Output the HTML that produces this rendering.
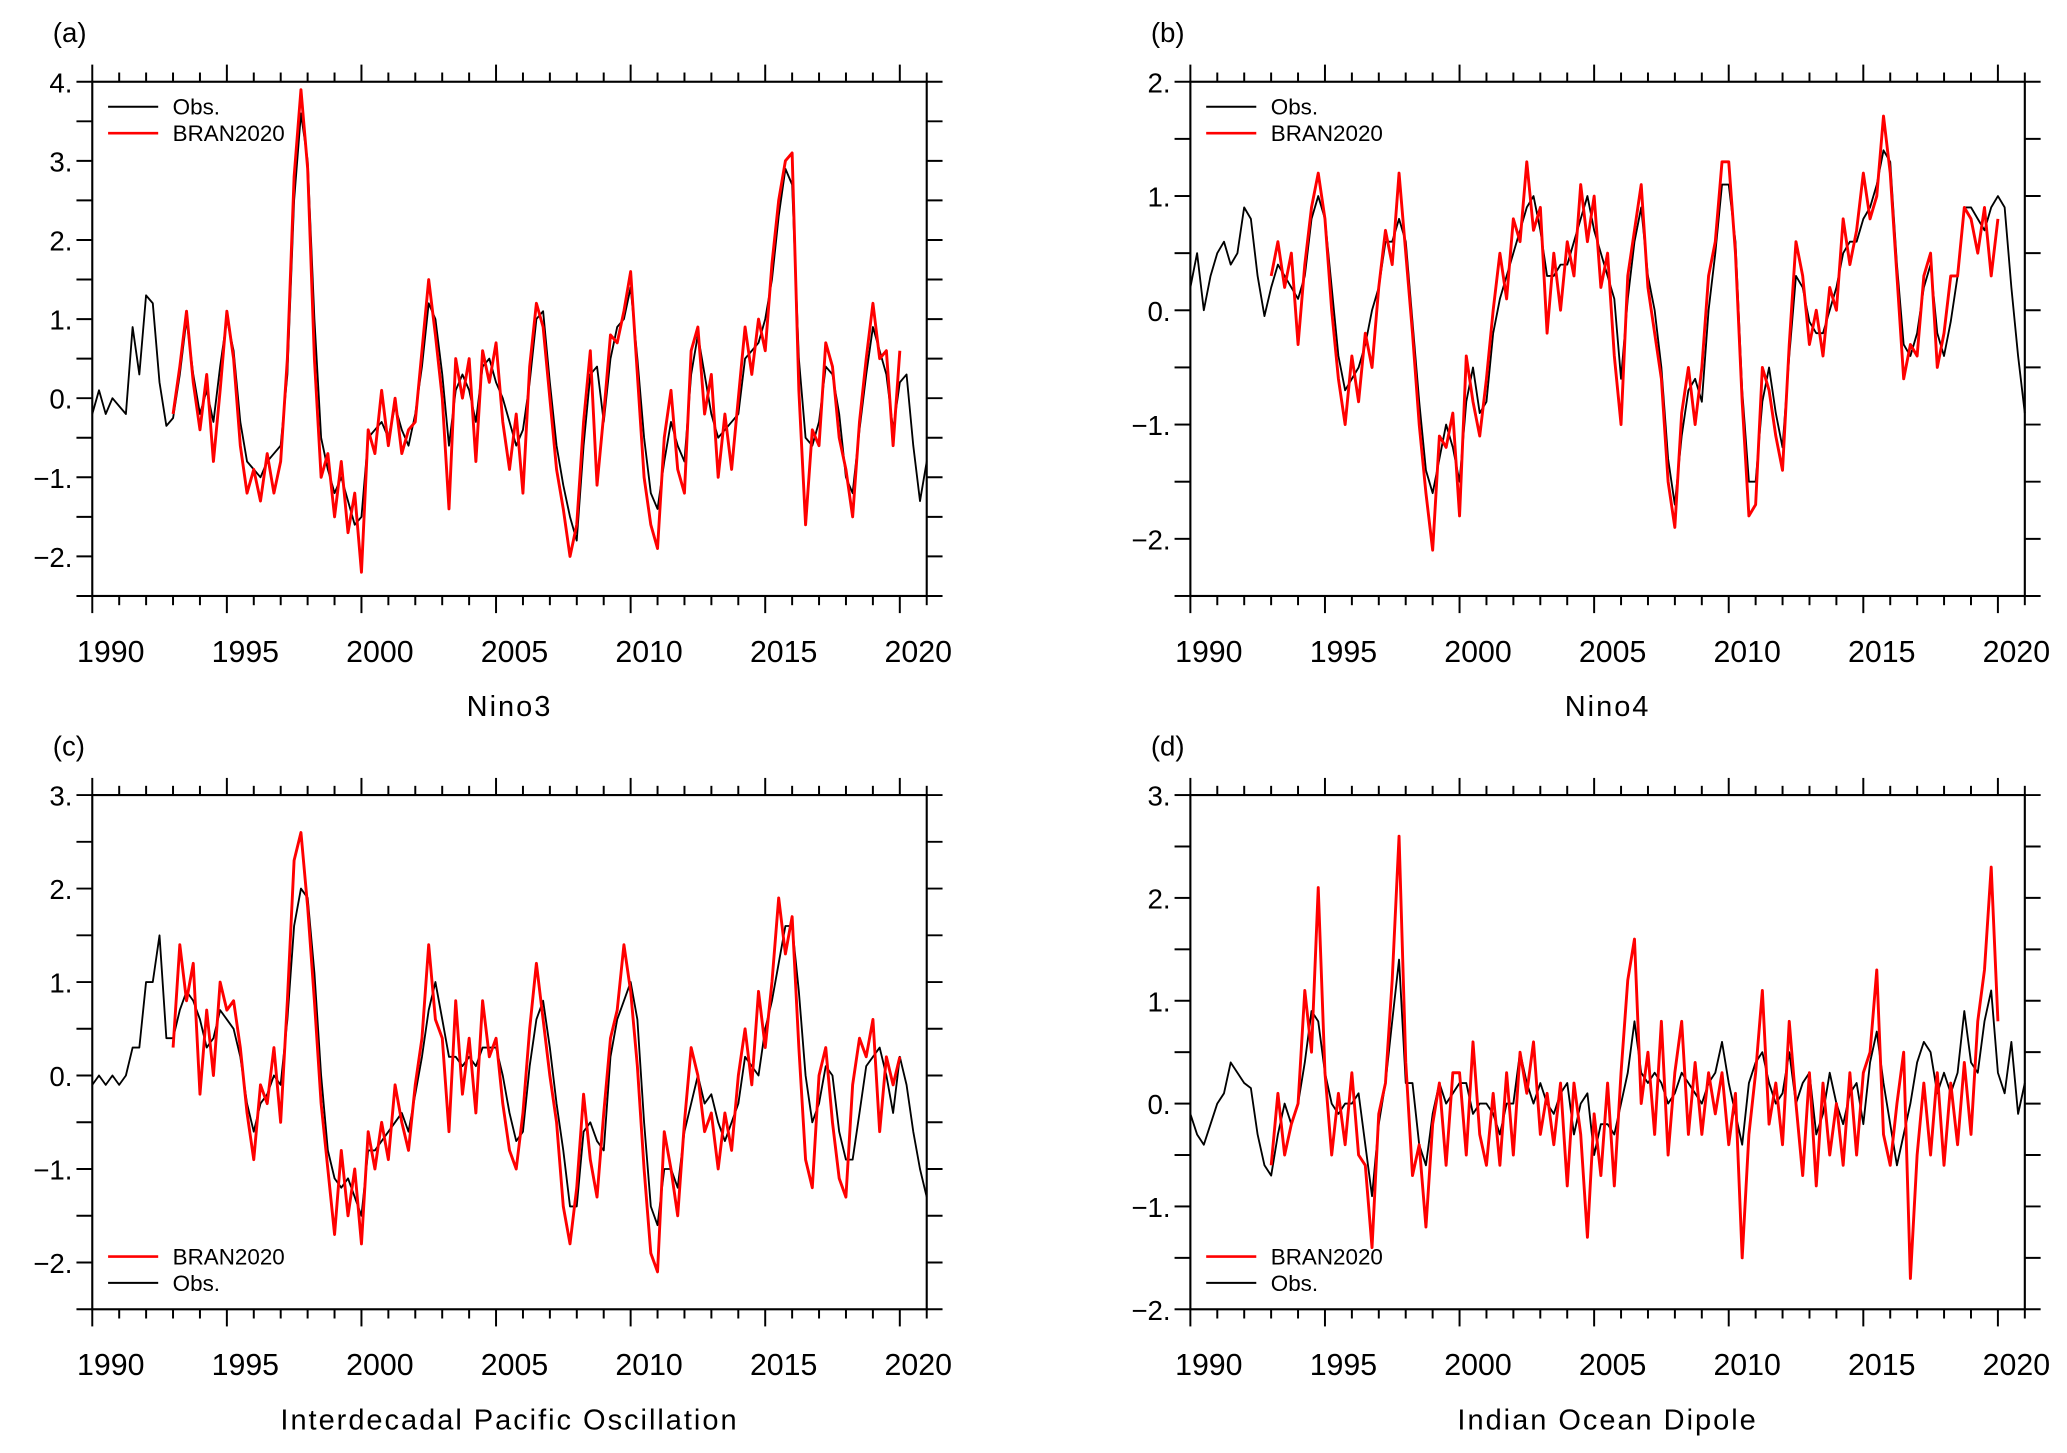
<!DOCTYPE html>
<html><head><meta charset="utf-8"><style>
html,body{margin:0;padding:0;background:#fff;}
svg{display:block;font-family:"Liberation Sans","DejaVu Sans",sans-serif;}
</style></head><body>
<svg id="fig" width="2067" height="1453" viewBox="0 0 1568 1102" preserveAspectRatio="none" xmlns="http://www.w3.org/2000/svg"></svg>
<script>
// ---- data (quarterly values) ----
const obsStart = 1990.0, redStart = 1993.0, step = 0.25;
const xTickYears = [1990, 1995, 2000, 2005, 2010, 2015, 2020];
const nino3Obs = [-0.2,0.1,-0.2,0.0, -0.1,-0.2,0.9,0.3, 1.3,1.2,0.2,-0.35, -0.25,0.3,1.0,0.3, -0.2,0.1,-0.3,0.4, 1.0,0.6,-0.3,-0.8, -0.9,-1.0,-0.8,-0.7, -0.6,0.3,2.5,3.6, 3.0,1.0,-0.5,-0.9, -1.2,-1.0,-1.3,-1.6, -1.5,-0.5,-0.4,-0.3, -0.5,-0.1,-0.4,-0.6, -0.2,0.4,1.2,1.0, 0.3,-0.6,0.1,0.3, 0.1,-0.3,0.4,0.5, 0.2,0.0,-0.3,-0.6, -0.4,0.2,1.0,1.1, 0.2,-0.6,-1.1,-1.5, -1.8,-0.6,0.3,0.4, -0.3,0.5,0.9,1.0, 1.4,0.5,-0.5,-1.2, -1.4,-0.8,-0.3,-0.6, -0.8,0.3,0.8,0.3, -0.2,-0.5,-0.4,-0.3, -0.2,0.5,0.6,0.7, 1.0,1.5,2.3,2.9, 2.7,0.5,-0.5,-0.6, -0.3,0.4,0.3,-0.2, -1.0,-1.2,-0.4,0.3, 0.9,0.6,0.3,-0.4, 0.2,0.3,-0.6,-1.3, -0.8];
const nino3Bran = [-0.2,0.4,1.1,0.2, -0.4,0.3,-0.8,0.1, 1.1,0.5,-0.6,-1.2, -0.9,-1.3,-0.7,-1.2, -0.8,0.5,2.8,3.9, 2.9,0.5,-1.0,-0.7, -1.5,-0.8,-1.7,-1.2, -2.2,-0.4,-0.7,0.1, -0.6,0.0,-0.7,-0.4, -0.3,0.6,1.5,0.8, 0.0,-1.4,0.5,0.0, 0.5,-0.8,0.6,0.2, 0.7,-0.3,-0.9,-0.2, -1.2,0.4,1.2,0.9, 0.0,-0.9,-1.4,-2.0, -1.6,-0.3,0.6,-1.1, -0.2,0.8,0.7,1.1, 1.6,0.3,-1.0,-1.6, -1.9,-0.5,0.1,-0.9, -1.2,0.6,0.9,-0.2, 0.3,-1.0,-0.2,-0.9, 0.0,0.9,0.3,1.0, 0.6,1.7,2.5,3.0, 3.1,0.1,-1.6,-0.4, -0.6,0.7,0.4,-0.5, -0.9,-1.5,-0.3,0.5, 1.2,0.5,0.6,-0.6, 0.6];
const nino4Obs = [0.2,0.5,0.0,0.3, 0.5,0.6,0.4,0.5, 0.9,0.8,0.3,-0.05, 0.2,0.4,0.3,0.2, 0.1,0.3,0.8,1.0, 0.8,0.2,-0.4,-0.7, -0.6,-0.5,-0.3,0.0, 0.2,0.6,0.6,0.8, 0.6,-0.1,-0.8,-1.4, -1.6,-1.3,-1.0,-1.2, -1.5,-0.8,-0.5,-0.9, -0.8,-0.2,0.1,0.3, 0.5,0.7,0.9,1.0, 0.7,0.3,0.3,0.4, 0.4,0.6,0.8,1.0, 0.7,0.5,0.3,0.1, -0.6,0.1,0.6,0.9, 0.3,0.0,-0.5,-1.3, -1.7,-1.1,-0.7,-0.6, -0.8,0.0,0.5,1.1, 1.1,0.6,-0.7,-1.5, -1.5,-0.8,-0.5,-0.9, -1.2,-0.4,0.3,0.2, -0.1,-0.2,-0.2,0.0, 0.2,0.5,0.6,0.6, 0.8,0.9,1.1,1.4, 1.3,0.4,-0.3,-0.4, -0.2,0.2,0.4,-0.2, -0.4,-0.1,0.3,0.9, 0.9,0.8,0.7,0.9, 1.0,0.9,0.2,-0.4, -0.9];
const nino4Bran = [0.3,0.6,0.2,0.5, -0.3,0.4,0.9,1.2, 0.8,0.0,-0.6,-1.0, -0.4,-0.8,-0.2,-0.5, 0.2,0.7,0.4,1.2, 0.5,-0.2,-1.0,-1.6, -2.1,-1.1,-1.2,-0.9, -1.8,-0.4,-0.8,-1.1, -0.6,0.0,0.5,0.1, 0.8,0.6,1.3,0.7, 0.9,-0.2,0.5,0.0, 0.6,0.3,1.1,0.6, 1.0,0.2,0.5,-0.4, -1.0,0.3,0.7,1.1, 0.2,-0.2,-0.6,-1.5, -1.9,-0.9,-0.5,-1.0, -0.5,0.3,0.6,1.3, 1.3,0.5,-0.8,-1.8, -1.7,-0.5,-0.7,-1.1, -1.4,-0.3,0.6,0.3, -0.3,0.0,-0.4,0.2, 0.0,0.8,0.4,0.7, 1.2,0.8,1.0,1.7, 1.2,0.3,-0.6,-0.3, -0.4,0.3,0.5,-0.5, -0.2,0.3,0.3,0.9, 0.8,0.5,0.9,0.3, 0.8];
const ipoObs = [-0.1,0.0,-0.1,0.0, -0.1,0.0,0.3,0.3, 1.0,1.0,1.5,0.4, 0.4,0.7,0.9,0.8, 0.6,0.3,0.4,0.7, 0.6,0.5,0.2,-0.3, -0.6,-0.3,-0.2,0.0, -0.1,0.6,1.6,2.0, 1.9,1.1,0.0,-0.8, -1.1,-1.2,-1.1,-1.3, -1.5,-0.8,-0.8,-0.7, -0.6,-0.5,-0.4,-0.6, -0.2,0.2,0.7,1.0, 0.6,0.2,0.2,0.1, 0.2,0.1,0.3,0.3, 0.3,0.0,-0.4,-0.7, -0.6,0.1,0.6,0.8, 0.3,-0.3,-0.8,-1.4, -1.4,-0.6,-0.5,-0.7, -0.8,0.2,0.6,0.8, 1.0,0.6,-0.5,-1.4, -1.6,-1.0,-1.0,-1.2, -0.6,-0.3,0.0,-0.3, -0.2,-0.5,-0.7,-0.5, -0.3,0.2,0.1,0.0, 0.5,0.8,1.2,1.6, 1.6,0.9,0.0,-0.5, -0.3,0.1,0.0,-0.6, -0.9,-0.9,-0.4,0.1, 0.2,0.3,0.0,-0.4, 0.2,-0.1,-0.6,-1.0, -1.3];
const ipoBran = [0.3,1.4,0.8,1.2, -0.2,0.7,0.0,1.0, 0.7,0.8,0.3,-0.4, -0.9,-0.1,-0.3,0.3, -0.5,0.8,2.3,2.6, 1.8,0.8,-0.3,-1.0, -1.7,-0.8,-1.5,-1.0, -1.8,-0.6,-1.0,-0.5, -0.9,-0.1,-0.5,-0.8, -0.1,0.4,1.4,0.6, 0.4,-0.6,0.8,-0.2, 0.4,-0.4,0.8,0.2, 0.4,-0.3,-0.8,-1.0, -0.4,0.5,1.2,0.6, 0.0,-0.5,-1.4,-1.8, -1.2,-0.2,-0.9,-1.3, -0.4,0.4,0.7,1.4, 0.9,0.1,-1.0,-1.9, -2.1,-0.6,-1.0,-1.5, -0.5,0.3,0.0,-0.6, -0.4,-1.0,-0.4,-0.8, 0.0,0.5,-0.1,0.9, 0.3,1.0,1.9,1.3, 1.7,0.3,-0.9,-1.2, 0.0,0.3,-0.5,-1.1, -1.3,-0.1,0.4,0.2, 0.6,-0.6,0.2,-0.1, 0.2];
const iodObs = [-0.1,-0.3,-0.4,-0.2, 0.0,0.1,0.4,0.3, 0.2,0.15,-0.3,-0.6, -0.7,-0.3,0.0,-0.2, 0.0,0.4,0.9,0.8, 0.3,0.0,-0.1,0.0, 0.0,0.1,-0.4,-0.9, -0.2,0.2,0.8,1.4, 0.2,0.2,-0.4,-0.6, -0.1,0.2,0.0,0.1, 0.2,0.2,-0.1,0.0, 0.0,-0.1,-0.3,0.0, 0.0,0.5,0.2,0.0, 0.2,0.0,-0.1,0.1, 0.2,-0.3,0.0,0.1, -0.5,-0.2,-0.2,-0.3, 0.0,0.3,0.8,0.3, 0.2,0.3,0.2,0.0, 0.1,0.3,0.2,0.1, 0.0,0.2,0.3,0.6, 0.2,-0.1,-0.4,0.2, 0.4,0.5,0.2,0.0, 0.1,0.5,0.0,0.2, 0.3,-0.3,-0.1,0.3, 0.0,-0.2,0.1,0.2, -0.2,0.4,0.7,0.2, -0.2,-0.6,-0.3,0.0, 0.4,0.6,0.5,0.1, 0.3,0.1,0.3,0.9, 0.4,0.3,0.8,1.1, 0.3,0.1,0.6,-0.1, 0.2];
const iodBran = [-0.6,0.1,-0.5,-0.2, 0.0,1.1,0.5,2.1, 0.3,-0.5,0.1,-0.4, 0.3,-0.5,-0.6,-1.4, -0.1,0.2,1.2,2.6, 0.4,-0.7,-0.4,-1.2, -0.2,0.2,-0.6,0.3, 0.3,-0.5,0.6,-0.3, -0.6,0.1,-0.6,0.3, -0.5,0.5,0.1,0.6, -0.3,0.1,-0.4,0.2, -0.8,0.2,-0.3,-1.3, -0.1,-0.7,0.2,-0.8, 0.3,1.2,1.6,0.0, 0.5,-0.3,0.8,-0.5, 0.3,0.8,-0.3,0.4, -0.3,0.3,-0.1,0.3, -0.4,0.1,-1.5,-0.3, 0.3,1.1,-0.2,0.2, -0.4,0.8,0.0,-0.7, 0.3,-0.8,0.2,-0.5, 0.0,-0.6,0.3,-0.5, 0.3,0.5,1.3,-0.3, -0.6,0.0,0.5,-1.7, -0.5,0.2,-0.5,0.3, -0.6,0.2,-0.4,0.4, -0.3,0.8,1.3,2.3, 0.8];
const ticksA = [4,3,2,1,0,-1,-2];
const ticksB = [2,1,0,-1,-2];
const ticksC = [3,2,1,0,-1,-2];
const ticksD = [3,2,1,0,-1,-2];

const NS = "http://www.w3.org/2000/svg";
const svg = document.getElementById('fig');
function mk(tag, attrs, parent){ const e=document.createElementNS(NS,tag); for(const k in attrs) e.setAttribute(k,attrs[k]); (parent||svg).appendChild(e); return e; }

function panel(p){
  const g = mk('g',{});
  
  
  const X0=1990, X1=2021;
  const xs = y => p.L + (y-X0)/(X1-X0)*(p.R-p.L);
  const ys = v => p.B - (v-p.ymin)/(p.ymax-p.ymin)*(p.B-p.T);
  function series(arr, start, color, w, name){
    let d='';
    arr.forEach((v,i)=>{ d += (i?'L':'M') + xs(start+i*step).toFixed(1)+','+ys(v).toFixed(1); });
    const path = mk('path',{d:d,fill:'none',stroke:color,'stroke-width':w,'stroke-linejoin':'round'},g);
    
    
  }
  series(p.obs, obsStart, '#000', 1.4, 'obs-line');
  series(p.red, redStart, '#ff0000', 2.2, 'bran2020-line');
  const frame = mk('rect',{x:p.L,y:p.T,width:p.R-p.L,height:p.B-p.T,fill:'none',stroke:'#000','stroke-width':1.6},g);
  
  
  for(let yr=1990; yr<=2021; yr++){
    const major = yr%5===0, x=xs(yr), len = major?13:7;
    mk('line',{x1:x,x2:x,y1:p.T,y2:p.T-len,stroke:'#000','stroke-width':1.5},g);
    mk('line',{x1:x,x2:x,y1:p.B,y2:p.B+len,stroke:'#000','stroke-width':1.5},g);
  }
  xTickYears.forEach(yr=>{
    const t = mk('text',{x:xs(yr)+14,y:p.B+50,'font-size':23,'text-anchor':'middle'},g);
    t.textContent = yr;
    
    
  });
  for(let v=p.ymin; v<=p.ymax+1e-6; v+=0.5){
    const y=ys(v);
    mk('line',{x1:p.L,x2:p.L-12,y1:y,y2:y,stroke:'#000','stroke-width':1.5},g);
    mk('line',{x1:p.R,x2:p.R+12,y1:y,y2:y,stroke:'#000','stroke-width':1.5},g);
  }
  p.ticks.forEach(v=>{
    const t = mk('text',{x:p.L-15,y:ys(v)+8,'font-size':21,'text-anchor':'end'},g);
    t.textContent = (v<0?'\u2212'+(-v):v)+'.';
    
    
  });
  const lab = mk('text',{x:p.L-30,y:p.T-30,'font-size':21},g);
  lab.textContent = p.label;
  
  
  const ttl = mk('text',{x:(p.L+p.R)/2,y:p.B+91,'font-size':22,'text-anchor':'middle','letter-spacing':'1.5'},g);
  ttl.textContent = p.title;
  
  
  const lg = mk('g',{},g);
  
  
  p.legend.forEach((e,i)=>{
    const y = p.legY + i*20;
    mk('line',{x1:p.L+12,x2:p.L+50,y1:y,y2:y,stroke:e.c,'stroke-width':e.c==='#000'?1.5:2},lg);
    const t = mk('text',{x:p.L+61,y:y+6,'font-size':17},lg);
    t.textContent = e.t;
    
    
  });
}
const OBS={t:'Obs.',c:'#000'}, BRAN={t:'BRAN2020',c:'#ff0000'};
panel({id:'panel-a-nino3',L:70,R:703,T:62,B:452,ymin:-2.5,ymax:4,obs:nino3Obs,red:nino3Bran,ticks:ticksA,label:'(a)',title:'Nino3',legend:[OBS,BRAN],legY:81});
panel({id:'panel-b-nino4',L:903,R:1536,T:62,B:452,ymin:-2.5,ymax:2,obs:nino4Obs,red:nino4Bran,ticks:ticksB,label:'(b)',title:'Nino4',legend:[OBS,BRAN],legY:81});
panel({id:'panel-c-ipo',L:70,R:703,T:603,B:993,ymin:-2.5,ymax:3,obs:ipoObs,red:ipoBran,ticks:ticksC,label:'(c)',title:'Interdecadal Pacific Oscillation',legend:[BRAN,OBS],legY:953});
panel({id:'panel-d-iod',L:903,R:1536,T:603,B:993,ymin:-2,ymax:3,obs:iodObs,red:iodBran,ticks:ticksD,label:'(d)',title:'Indian Ocean Dipole',legend:[BRAN,OBS],legY:953});
</script>
</body></html>
